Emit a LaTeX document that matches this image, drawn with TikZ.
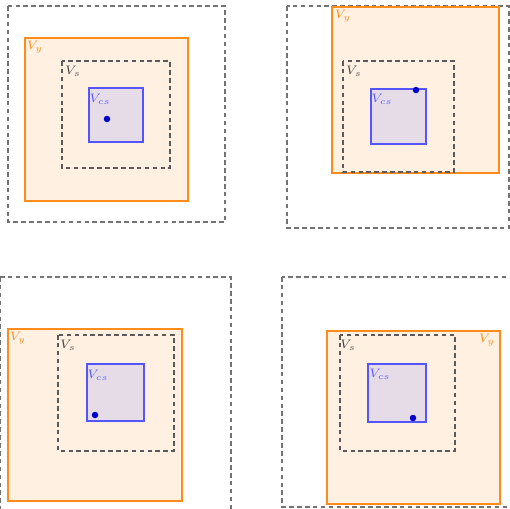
\documentclass[tikz,border=0pt]{standalone}
\usepackage{tikz}
\usepackage{xcolor}
\usepackage{amsmath}
\definecolor{Ink}{HTML}{5A5A5A}
\definecolor{YLine}{HTML}{FF8C1A}
\definecolor{YFill}{HTML}{FFF0E1}
\definecolor{CsLine}{HTML}{5555FF}
\definecolor{CsFill}{HTML}{E6DCE8}
\definecolor{Dot}{HTML}{0000CC}
\tikzset{
  outerbox/.style={draw=Ink!85,line width=0.75pt,dash pattern=on 2.6pt off 1.9pt},
  innerbox/.style={draw=Ink,line width=0.75pt,dash pattern=on 2.6pt off 1.9pt},
  ybox/.style={draw=YLine,fill=YFill,line width=0.9pt},
  csbox/.style={draw=CsLine,fill=CsFill,line width=0.75pt},
  dotmark/.style={circle,fill=Dot,inner sep=0pt,minimum size=0.13cm},
  ylabel/.style={text=YLine,font=\scriptsize,inner sep=0pt},
  slabel/.style={text=Ink!70!black,font=\scriptsize,inner sep=0pt},
  cslabel/.style={text=CsLine,font=\scriptsize,inner sep=0pt}
}
\begin{document}
\begin{tikzpicture}[x=0.02cm,y=-0.02cm]
\useasboundingbox (0,0) rectangle (510,508);
\draw[outerbox] (8,6) rectangle (225,222);
\draw[ybox] (25,38) rectangle (188,201);
\draw[innerbox] (62,61) rectangle (170,168);
\draw[csbox] (89,88) rectangle (143,142);
\node[dotmark] (dota) at (107,119) {};
\node[ylabel] (ya) at (35,47) {$V_y$};
\node[slabel] (sa) at (73,71) {$V_s$};
\node[cslabel] (csa) at (100,99) {$V_{cs}$};
\draw[outerbox] (287,6) rectangle (509,228);
\draw[ybox] (332,7) rectangle (499,173);
\draw[innerbox] (343,61) rectangle (454,172);
\draw[csbox] (371,89) rectangle (426,144);
\node[dotmark] (dotb) at (416,90) {};
\node[ylabel] (yb) at (343,16) {$V_y$};
\node[slabel] (sb) at (354,71) {$V_s$};
\node[cslabel] (csb) at (382,99) {$V_{cs}$};
\draw[outerbox] (0.5,277) rectangle (231,515);
\draw[ybox] (8,329) rectangle (182,501);
\draw[innerbox] (58,335) rectangle (174,451);
\draw[csbox] (87,364) rectangle (144,421);
\node[dotmark] (dotc) at (95,415) {};
\node[ylabel] (yc) at (18,338) {$V_y$};
\node[slabel] (sc) at (68,345) {$V_s$};
\node[cslabel] (csc) at (98,375) {$V_{cs}$};
\draw[outerbox] (282,277) rectangle (512,507);
\draw[ybox] (327,331) rectangle (500,504);
\draw[innerbox] (340,335) rectangle (455,451);
\draw[csbox] (368,364) rectangle (426,422);
\node[dotmark] (dotd) at (413,418) {};
\node[ylabel] (yd) at (487,340) {$V_y$};
\node[slabel] (sd) at (348,345) {$V_s$};
\node[cslabel] (csd) at (380,374) {$V_{cs}$};
\end{tikzpicture}
\end{document}
